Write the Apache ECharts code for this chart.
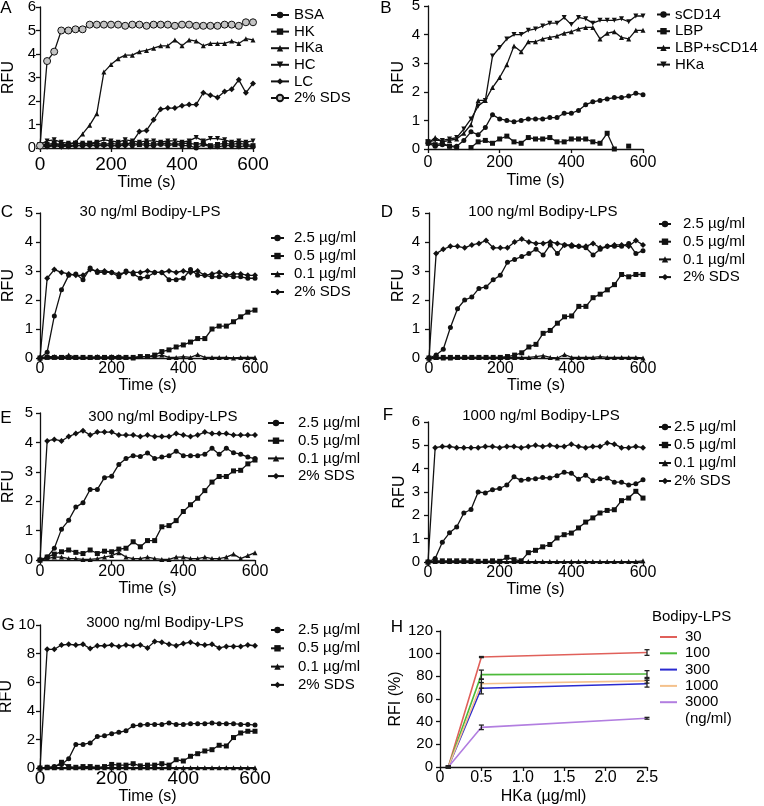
<!DOCTYPE html>
<html><head><meta charset="utf-8">
<script src="https://cdn.jsdelivr.net/npm/echarts@6/dist/echarts.min.js"></script>
<style>html,body{margin:0;padding:0;background:#fff}#c{width:764px;height:806px}</style>
</head><body><div id="c"></div>
<script>
// ---- time points (s) ----
const times = [0,20,40,60,80,100,120,140,160,180,200,220,240,260,280,300,320,340,360,380,400,420,440,460,480,500,520,540,560,580,600];
const timeTicks = [0,200,400,600];

// ---- Panel A ----
const aBSA = [0.1,0.05,0.1,0.15,0.05,0.1,0.1,0.15,0.1,0.15,0.1,0.1,0.15,0.1,0.15,0.1,0.1,0.15,0.1,0.15,0.1,0.1,0.0,0.15,0.05,0.05,0.1,0.1,0.05,0.1,0.05];
const aHK  = [0.15,0.15,0.2,0.15,0.15,0.2,0.15,0.2,0.2,0.15,0.2,0.15,0.2,0.2,0.15,0.2,0.15,0.2,0.2,0.15,0.2,0.2,0.15,0.2,0.1,0.15,0.2,0.15,0.2,0.15,0.1];
const aHKa = [0.1,0.1,0.15,0.1,0.15,0.25,0.6,0.97,1.46,3.23,3.55,3.8,3.95,3.95,4.1,4.15,4.25,4.35,4.35,4.6,4.35,4.6,4.55,4.35,4.45,4.45,4.45,4.55,4.45,4.65,4.6];
const aHC  = [0.15,0.3,0.35,0.25,0.2,0.2,0.2,0.2,0.25,0.35,0.3,0.25,0.35,0.3,0.25,0.3,0.3,0.25,0.3,0.3,0.25,0.3,0.45,0.3,0.4,0.4,0.35,0.25,0.3,0.25,0.3];
const aLC  = [0.1,0.1,0.1,0.05,0.1,0.1,0.1,0.1,0.1,0.1,0.1,0.1,0.1,0.25,0.7,0.75,1.2,1.65,1.7,1.7,1.8,1.85,1.85,2.35,2.25,2.15,2.4,2.5,2.9,2.35,2.75];
const aSDS = [0.1,3.7,4.1,5.0,5.0,5.05,5.05,5.25,5.25,5.25,5.25,5.25,5.2,5.25,5.25,5.2,5.25,5.25,5.25,5.2,5.25,5.25,5.2,5.2,5.2,5.2,5.25,5.25,5.2,5.35,5.35];

// ---- Panel B ----
const bsCD14 = [0.2,0.1,0.15,0.1,0.1,0.3,0.6,0.5,0.75,1.2,1.05,1.0,0.95,1.0,1.05,1.05,1.05,1.1,1.1,1.25,1.25,1.35,1.55,1.65,1.7,1.75,1.8,1.8,1.85,1.95,1.9];
const bLBP = [0.25,0.15,0.2,0.1,0.05,null,0.05,0.25,0.3,0.2,0.35,0.45,0.25,0.2,0.4,0.35,0.35,0.4,0.25,0.25,0.35,0.35,0.35,0.25,0.2,0.55,0.0,null,0.1,null,null];
const bLBPsCD14 = [0.2,0.4,0.25,0.3,0.35,0.55,0.85,1.7,1.7,2.15,2.5,2.95,3.6,3.4,3.75,3.75,3.85,3.9,3.95,4.05,4.1,4.2,4.25,4.25,3.85,4.05,4.1,3.9,3.85,4.15,4.15];
const bHKa = [0.25,0.3,0.3,0.35,0.4,0.7,1.05,1.5,1.7,3.25,3.55,3.85,4.0,4.0,4.15,4.2,4.3,4.4,4.4,4.6,4.35,4.6,4.55,4.4,4.5,4.5,4.5,4.55,4.45,4.65,4.65];

// ---- Panel C (30 ng/ml) ----
const c25 = [0,0.2,1.45,2.35,2.85,2.9,2.7,3.1,2.95,2.95,2.95,2.8,3.0,2.9,2.75,2.8,2.95,2.95,2.7,2.7,2.75,3.05,2.85,2.85,2.8,2.8,2.85,2.8,2.8,2.75,2.75];
const c05 = [0,0.02,0.02,0.02,0.02,0.02,0.02,0.02,0.02,0.02,0.02,0.02,0.02,0.02,0.05,0.05,0.1,0.22,0.28,0.38,0.45,0.55,0.67,0.67,1.0,1.1,1.1,1.25,1.42,1.58,1.65];
const c01 = [0,0.05,0.05,0.02,0.1,0.02,0.02,0.02,0.05,0.02,0.05,0.05,0.02,0,0.05,0.05,0.05,0.1,0.02,0.02,0.05,0.02,0.12,0.02,0.02,0.02,0.02,0,0.02,0.02,0.02];
const cSDS = [0,2.75,3.05,2.95,2.9,2.85,2.85,3.05,3.0,3.0,2.95,2.9,2.95,2.95,2.95,3.0,2.95,2.95,3.0,2.95,3.0,2.95,3.0,2.85,2.9,2.95,2.85,2.9,2.9,2.85,2.85];

// ---- Panel D (100 ng/ml) ----
const d25 = [0,0.1,0.3,1.05,1.7,2.0,2.1,2.4,2.45,2.7,2.85,3.3,3.4,3.5,3.6,3.75,3.55,3.9,3.6,3.9,3.85,3.85,3.8,3.55,3.75,3.85,3.85,3.85,3.95,3.6,3.7];
const d05 = [0,0.02,0.02,0.02,0.02,0.02,0.02,0.02,0.02,0.02,0.02,0.05,0.1,0.18,0.38,0.47,0.85,0.95,1.2,1.42,1.45,1.78,1.78,2.08,2.2,2.35,2.53,2.88,2.8,2.88,2.88];
const d01 = [0,0.02,0,0,0.02,0.02,0.02,0.02,0.02,0.02,0.02,0.02,0.02,0.02,0.02,0.05,0.08,0.02,0,0.12,0.02,0.02,0.02,0.02,0.05,0.02,0.02,0.02,0.02,0.02,0];
const dSDS = [0,3.6,3.75,3.85,3.85,3.8,3.9,3.95,4.05,3.8,3.8,3.8,4.0,4.1,4.0,3.95,3.95,4.0,3.95,3.9,3.9,3.85,3.85,3.95,3.8,3.85,3.9,3.9,3.85,4.05,3.9];

// ---- Panel E (300 ng/ml) ----
const e25 = [0,0.1,0.4,1.05,1.35,1.8,1.95,2.4,2.4,2.8,2.85,3.25,3.45,3.55,3.52,3.64,3.45,3.5,3.55,3.7,3.55,3.55,3.55,3.6,3.8,3.6,3.8,3.65,3.6,3.5,3.45];
const e05 = [0,0.1,0.2,0.28,0.34,0.26,0.22,0.34,0.22,0.3,0.28,0.37,0.4,0.62,0.45,0.66,0.66,1.13,1.17,1.34,1.65,1.88,2.1,2.36,2.65,2.84,2.84,3.03,3.05,3.27,3.4];
const e01 = [0,0.05,0.1,0.1,0.05,0.05,0.02,0.02,0.05,0.1,0.15,0.25,0.1,0.05,0.05,0.1,0.05,0.02,0.02,0.1,0.1,0.05,0.05,0.1,0.05,0.05,0.1,0.2,0.05,0.15,0.25];
const eSDS = [0,4.05,4.1,4.05,4.2,4.3,4.4,4.25,4.35,4.35,4.35,4.25,4.25,4.25,4.2,4.25,4.2,4.2,4.2,4.3,4.25,4.2,4.25,4.35,4.3,4.3,4.3,4.25,4.25,4.25,4.25];

// ---- Panel F (1000 ng/ml) ----
const f25 = [0,0.15,0.85,1.25,1.5,2.1,2.25,3.0,2.96,3.1,3.15,3.3,3.65,3.5,3.55,3.57,3.62,3.6,3.7,3.85,3.8,3.55,3.72,3.48,3.57,3.6,3.42,3.42,3.3,3.35,3.52];
const f05 = [0,0.05,0.05,0.05,0.05,0.05,0.05,0.03,0.03,0.05,0.03,0.2,0.1,0.05,0.4,0.5,0.65,0.75,1.03,1.17,1.24,1.46,1.71,1.89,2.1,2.21,2.24,2.63,2.74,3.03,2.74];
const f01 = [0,0.02,0.02,0.02,0.02,0.02,0.02,0.02,0.02,0.02,0.02,0.02,0.02,0.02,0.02,0.02,0.02,0.02,0.02,0.02,0.02,0.02,0.02,0.02,0.02,0.02,0.02,0.02,0.02,0.02,0.05];
const fSDS = [0,4.9,4.95,4.95,4.9,4.9,4.9,4.9,4.95,4.95,4.9,4.95,4.95,4.9,4.95,5.0,4.95,5.0,4.95,4.95,5.05,4.95,4.9,4.95,4.95,5.1,5.05,4.9,4.9,4.95,4.9];

// ---- Panel G (3000 ng/ml) ----
const g25 = [0,0.05,0.1,0.25,0.65,1.65,1.65,1.75,2.2,2.25,2.4,2.5,2.6,2.95,3.0,3.05,3.05,3.05,3.15,3.05,3.05,3.1,3.1,3.1,3.15,3.1,3.1,3.1,3.05,3.05,3.0];
const g05 = [0,0.05,0.05,0.4,0.1,0.05,0.1,0.1,0.05,0.1,0.25,0.2,0.2,0.3,0.15,0.2,0.2,0.3,0.2,0.58,0.49,0.82,1.0,1.19,1.28,1.59,1.54,2.13,2.45,2.57,2.57];
const g01 = [0,0.02,0.02,0.02,0.02,0.02,0.02,0.02,0.02,0.02,0.02,0.02,0.02,0.02,0.02,0.02,0.02,0.02,0.02,0.02,0.02,0.02,0.02,0.02,0.02,0.02,0.02,0.02,0.02,0.02,0.02];
const gSDS = [0,8.3,8.3,8.6,8.65,8.6,8.65,8.35,8.55,8.55,8.6,8.5,8.6,8.55,8.6,8.4,8.85,8.8,8.65,8.55,8.7,8.8,8.65,8.6,8.65,8.4,8.5,8.5,8.5,8.6,8.55];

// ---- Panel H ----
const hConc = [0.1, 0.5, 2.5];
const hTicks = [0, 0.5, 1.0, 1.5, 2.0, 2.5];
const hLabels = ['30','100','300','1000','3000'];
const hColors = ['#e0605a','#4cba3a','#2a2ad0','#f4c18c','#b27ee0'];
const h30 = [0, 97, 101],     h30e = [0.8, 0.5, 2.5];
const h100 = [0, 81.5, 82],   h100e = [0.8, 4, 3];
const h300 = [0, 69.5, 73.5], h300e = [0.8, 5, 3];
const h1000 = [0, 73.5, 76],  h1000e = [0.8, 4, 2];
const h3000 = [0, 35, 43],    h3000e = [0.8, 2, 0.8];

const FONT = '"Liberation Sans", Arial, sans-serif';
const BLK = '#111';
const INV_TRI = 'path://M0,0L10,0L5,9Z';

const grids = [
  {left:40,  top:7,   width:213, height:141},
  {left:428, top:6,   width:215, height:143},
  {left:40,  top:213, width:215, height:145},
  {left:429, top:213, width:214, height:145},
  {left:40,  top:413, width:215, height:147},
  {left:428, top:422, width:215, height:140},
  {left:40,  top:625, width:215, height:143},
  {left:440, top:631, width:207, height:136}
].map(g => Object.assign({outerBoundsMode:'none', containLabel:false}, g));

// per-panel axis settings
const yMax   = [6,5,5,5,5,6,10];
const yInt   = [1,1,1,1,1,1,2];
const xFont  = [19,16,16,16,16,16,19];
const xMarg  = [7,6,3,3,4,3,1];
const yMarg  = [4,8,7,9,7,8,5];
const xGap   = [25,24,19,19,20,19,21];
const yGap   = [23,21,23,22,23,20,24];

const axisLine = {show:true, lineStyle:{color:BLK, width:1.3}};
const axisTick = {show:true, inside:false, length:4, lineStyle:{color:BLK, width:1.3}};
const nameStyle = {fontSize:16, color:'#000', fontFamily:FONT};

const xAxes = [], yAxes = [];
for (let i = 0; i < 7; i++) {
  xAxes.push({type:'value', gridIndex:i, min:timeTicks[0], max:timeTicks[timeTicks.length-1], interval:200,
    axisLine, axisTick, splitLine:{show:false},
    axisLabel:{fontSize:xFont[i], color:'#000', fontFamily:FONT, margin:xMarg[i]},
    name:'Time (s)', nameLocation:'middle', nameGap:xGap[i], nameTextStyle:nameStyle});
  yAxes.push({type:'value', gridIndex:i, min:0, max:yMax[i], interval:yInt[i],
    axisLine, axisTick, splitLine:{show:false},
    axisLabel:{fontSize:15, color:'#000', fontFamily:FONT, margin:yMarg[i]},
    name:'RFU', nameLocation:'middle', nameRotate:90, nameGap:yGap[i], nameTextStyle:nameStyle});
}
xAxes.push({type:'value', gridIndex:7, min:0, max:2.5, interval:0.5,
  axisLine, axisTick, splitLine:{show:false},
  axisLabel:{fontSize:16, color:'#000', fontFamily:FONT, margin:3, formatter:v => v === 0 ? '0' : v.toFixed(1)},
  name:'HKa (µg/ml)', nameLocation:'middle', nameGap:22, nameTextStyle:nameStyle});
yAxes.push({type:'value', gridIndex:7, min:0, max:120, interval:20,
  axisLine, axisTick, splitLine:{show:false},
  axisLabel:{fontSize:15, color:'#000', fontFamily:FONT, margin:7},
  name:'RFI (%)', nameLocation:'middle', nameRotate:90, nameGap:34, nameTextStyle:nameStyle});

function ts(panel, label, values, symbol, gi, extra) {
  return Object.assign({
    name: panel + '|' + label, type:'line', xAxisIndex:gi, yAxisIndex:gi,
    data: times.map((t, i) => [t, values[i] === null ? '-' : values[i]]),
    symbol, symbolSize:5, showSymbol:true, connectNulls:false,
    lineStyle:{color:BLK, width:1.3}, itemStyle:{color:BLK},
    emphasis:{disabled:true}, animation:false, z:2
  }, extra || {});
}

const series = [];
// A
series.push(ts('A','BSA',aBSA,'circle',0));
series.push(ts('A','HK',aHK,'rect',0));
series.push(ts('A','HKa',aHKa,'triangle',0));
series.push(ts('A','HC',aHC,INV_TRI,0));
series.push(ts('A','LC',aLC,'diamond',0,{symbolSize:6}));
series.push(ts('A','2% SDS',aSDS,'circle',0,{symbolSize:7, itemStyle:{color:'#c4c4c4', borderColor:BLK, borderWidth:1}}));
// B
series.push(ts('B','sCD14',bsCD14,'circle',1));
series.push(ts('B','LBP',bLBP,'rect',1));
series.push(ts('B','LBP+sCD14',bLBPsCD14,'triangle',1));
series.push(ts('B','HKa',bHKa,INV_TRI,1));
// C-G
const conc = [
  ['C', c25, c05, c01, cSDS],
  ['D', d25, d05, d01, dSDS],
  ['E', e25, e05, e01, eSDS],
  ['F', f25, f05, f01, fSDS],
  ['G', g25, g05, g01, gSDS]
];
const concNames = ['2.5 µg/ml','0.5 µg/ml','0.1 µg/ml','2% SDS'];
conc.forEach((c, k) => {
  const gi = k + 2;
  series.push(ts(c[0], concNames[0], c[1], 'circle', gi));
  series.push(ts(c[0], concNames[1], c[2], 'rect', gi));
  series.push(ts(c[0], concNames[2], c[3], 'triangle', gi));
  series.push(ts(c[0], concNames[3], c[4], 'diamond', gi, {symbolSize:6}));
});
// H
const hMeans = [h30, h100, h300, h1000, h3000];
const hErrs = [h30e, h100e, h300e, h1000e, h3000e];
hMeans.forEach((m, k) => {
  series.push({name:'H|' + hLabels[k], type:'line', xAxisIndex:7, yAxisIndex:7,
    data: hConc.map((x, i) => [x, m[i]]), symbol:'none', showSymbol:false,
    lineStyle:{color:hColors[k], width:1.6}, itemStyle:{color:hColors[k]},
    emphasis:{disabled:true}, animation:false, z:2});
});
hMeans.forEach((m, k) => {
  series.push({name:'Herr' + k, type:'custom', xAxisIndex:7, yAxisIndex:7, coordinateSystem:'cartesian2d',
    data: hConc.map((x, i) => [x, m[i] - hErrs[k][i], m[i] + hErrs[k][i]]),
    encode:{x:0, y:[1,2]}, animation:false, z:3,
    renderItem: (params, api) => {
      const x = api.value(0);
      const p1 = api.coord([x, api.value(1)]);
      const p2 = api.coord([x, api.value(2)]);
      const w = 2.5;
      const st = {stroke:'#222', lineWidth:1.3};
      return {type:'group', children:[
        {type:'line', shape:{x1:p1[0], y1:p1[1], x2:p2[0], y2:p2[1]}, style:st},
        {type:'line', shape:{x1:p1[0]-w, y1:p1[1], x2:p1[0]+w, y2:p1[1]}, style:st},
        {type:'line', shape:{x1:p2[0]-w, y1:p2[1], x2:p2[0]+w, y2:p2[1]}, style:st}
      ]};
    }});
});

function leg(panel, names, left, top, itemWidth, gap, pad, extra) {
  return Object.assign({
    orient:'vertical', left, top, itemWidth, itemHeight:8, itemGap:gap, padding:0,
    selectedMode:false,
    data: names.map(n => panel + '|' + n),
    formatter: n => n.split('|')[1],
    textStyle:{fontSize:15, color:'#000', fontFamily:FONT, padding:[0,0,0,pad]}
  }, extra || {});
}
const legends = [
  leg('A', ['BSA','HK','HKa','HC','LC','2% SDS'], 270, 7.5, 18, 1.6, 0),
  leg('B', ['sCD14','LBP','LBP+sCD14','HKa'], 656, 7, 13, 1.7, 0),
  leg('C', concNames, 270, 230.5, 13, 3, 5),
  leg('D', concNames, 658, 216.5, 12, 2.7, 7),
  leg('E', concNames, 267, 415.5, 16, 2.7, 9),
  leg('F', concNames, 658, 419.5, 12, 3, -2),
  leg('G', concNames, 270, 622.5, 13, 3.3, 9),
  leg('H', hLabels, 660, 629.5, 17, 1.3, 3, {icon:'rect', itemHeight:2})
];

function txt(x, y, text, size, align) {
  return {type:'text', x, y, silent:true,
    style:{text, fill:'#000', font: size + 'px ' + FONT, textAlign: align || 'center', textVerticalAlign:'middle', verticalAlign:'middle'}};
}
const graphics = [
  txt(6, 8, 'A', 17), txt(386, 8, 'B', 17), txt(7, 212, 'C', 17), txt(387, 212, 'D', 17),
  txt(6, 418, 'E', 17), txt(388, 415, 'F', 17), txt(8, 625, 'G', 17), txt(397, 627, 'H', 17),
  txt(150, 212, '30 ng/ml Bodipy-LPS', 15), txt(543, 212, '100 ng/ml Bodipy-LPS', 15),
  txt(163, 417, '300 ng/ml Bodipy-LPS', 15), txt(541, 416, '1000 ng/ml Bodipy-LPS', 15),
  txt(165, 623, '3000 ng/ml Bodipy-LPS', 15),
  txt(652, 617, 'Bodipy-LPS', 15, 'left'), txt(685, 719, '(ng/ml)', 15, 'left')
];

const chart = echarts.init(document.getElementById('c'), null, {renderer:'canvas'});
chart.setOption({
  animation:false,
  backgroundColor:'#fff',
  textStyle:{fontFamily:FONT},
  grid: grids, xAxis: xAxes, yAxis: yAxes, series, legend: legends, graphic: graphics
});
</script></body></html>
